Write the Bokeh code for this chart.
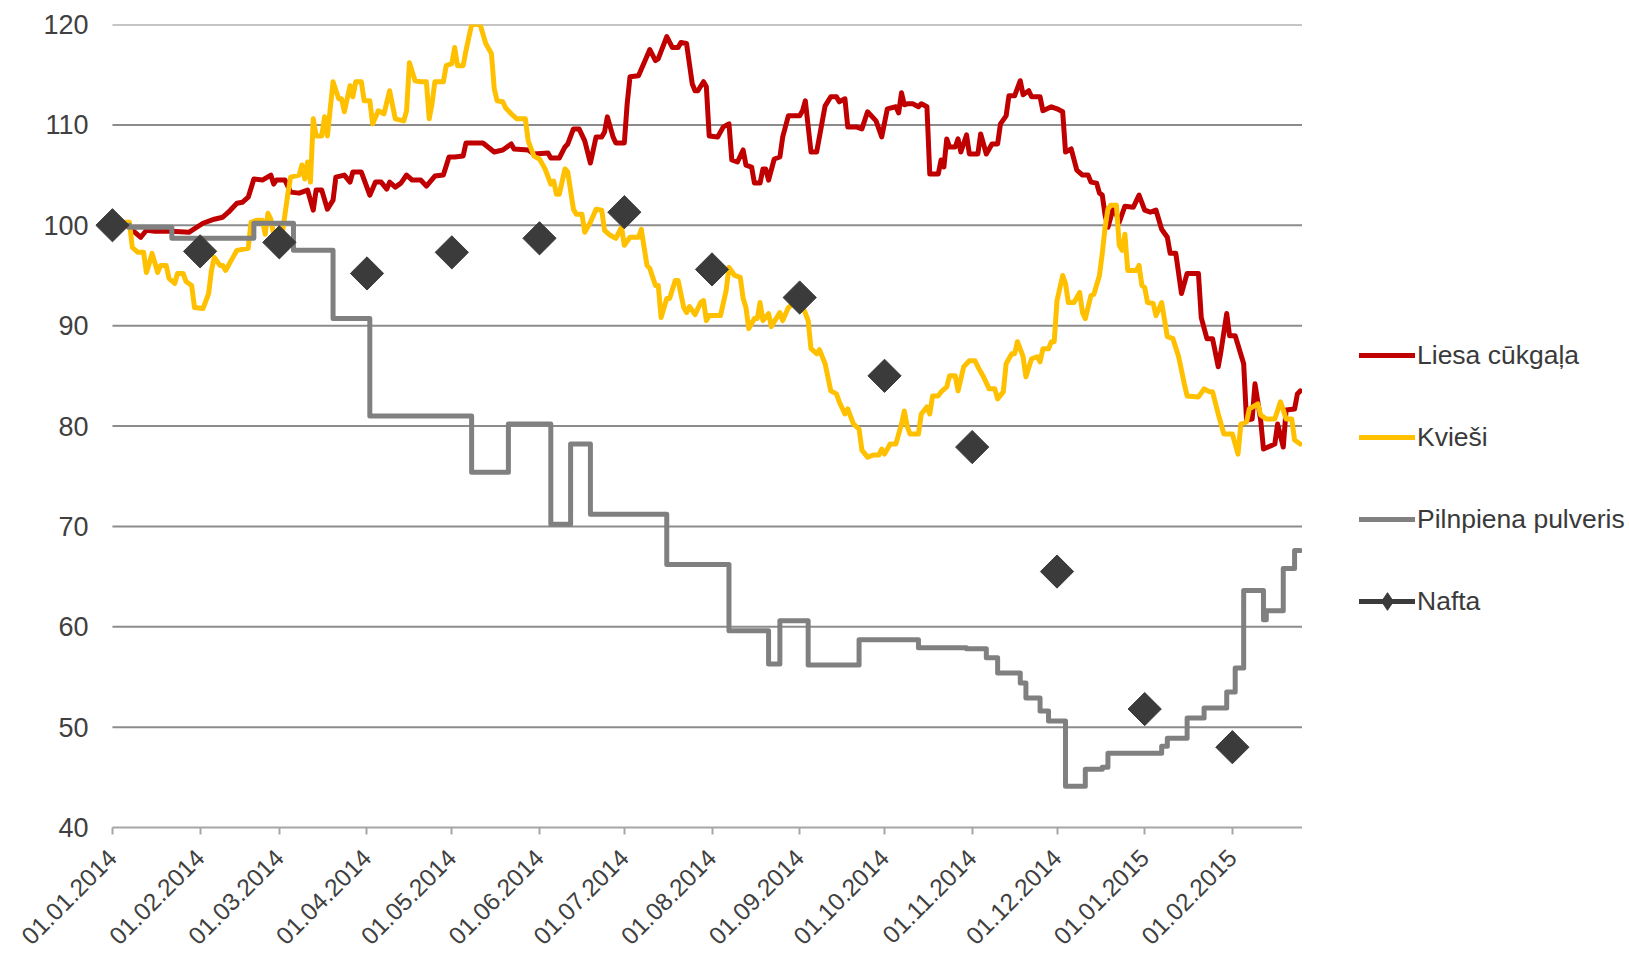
import math
from bokeh.plotting import figure
from bokeh.layouts import row
from bokeh.models import Range1d, FixedTicker, Legend, LegendItem, ColumnDataSource
from bokeh.embed import file_html
from bokeh.resources import INLINE

# ---------------- data (x = days since 01.01.2014) ----------------
month_days = [0, 31, 59, 90, 120, 151, 181, 212, 243, 273, 304, 334, 365, 396]
month_labels = ["01.01.2014", "01.02.2014", "01.03.2014", "01.04.2014", "01.05.2014",
                "01.06.2014", "01.07.2014", "01.08.2014", "01.09.2014", "01.10.2014",
                "01.11.2014", "01.12.2014", "01.01.2015", "01.02.2015"]
y_ticks = [40, 50, 60, 70, 80, 90, 100, 110, 120]
last_day = 420.8

pork_days = [0, 5, 10, 12, 15, 21, 27, 32, 36, 39, 41, 44, 46, 48, 50, 53, 56, 57, 58, 61,
             63, 66, 69, 71, 72, 74, 76, 78, 79, 82, 84, 85, 88, 91, 93, 95, 97, 98, 100, 102,
             104, 106, 109, 111, 114, 117, 119, 121, 124, 125, 131, 135, 138, 141, 142, 147, 149, 154, 155, 158,
             160, 161, 163, 165, 167, 169, 171, 173, 174, 175, 177, 178, 181, 182, 183, 186, 188, 190, 192, 193,
             196, 198, 200, 201, 203, 205, 206, 207, 209, 210, 211, 214, 216, 218, 219, 221, 223, 224, 226, 227,
             229, 230, 231, 232, 234, 236, 237, 239, 243, 244, 245, 247, 249, 252, 254, 256, 257, 259, 260, 263,
             265, 267, 270, 272, 274, 277, 278, 279, 280, 281, 283, 285, 286, 288, 289, 292, 293, 294, 295, 296,
             298, 299, 300, 302, 303, 306, 307, 309, 311, 313, 314, 316, 317, 319, 321, 322, 324, 325, 328, 329,
             332, 334, 336, 337, 339, 341, 343, 345, 346, 348, 349, 350, 351, 352, 354, 356, 358, 361, 363, 365,
             367, 369, 371, 373, 374, 376, 378, 380, 384, 385, 387, 389, 391, 392, 394, 395, 397, 400, 401, 403,
             404, 406, 407, 411, 412, 414, 415, 418, 419, 420]
pork_vals = [100.0, 100.0, 98.8, 99.5, 99.4, 99.4, 99.3, 100.2, 100.6, 100.8, 101.3, 102.2, 102.3, 102.8, 104.6, 104.5, 105.0, 104.1, 104.5, 104.5,
             103.3, 103.2, 103.5, 101.5, 103.5, 103.5, 101.6, 102.5, 104.8, 105.0, 104.3, 105.3, 105.3, 103.0, 104.3, 104.3, 103.6, 104.3, 103.8, 104.2,
             105.0, 104.5, 104.5, 103.9, 104.9, 105.0, 106.8, 106.8, 106.9, 108.2, 108.2, 107.3, 107.5, 108.1, 107.6, 107.5, 107.1, 107.2, 106.7, 106.7,
             107.8, 108.1, 109.6, 109.6, 108.4, 106.2, 108.8, 108.8, 109.3, 110.8, 108.8, 108.2, 108.2, 112.1, 114.8, 114.9, 116.2, 117.5, 116.4, 116.6,
             118.8, 117.7, 117.7, 118.2, 118.1, 114.1, 113.4, 113.4, 114.3, 113.8, 108.9, 108.8, 109.8, 110.1, 106.5, 106.3, 107.5, 106.0, 105.8, 104.2,
             104.2, 105.6, 105.6, 104.5, 106.6, 106.8, 108.8, 110.9, 110.9, 111.4, 112.4, 107.3, 107.3, 111.9, 112.8, 112.8, 112.3, 112.6, 109.8, 109.8,
             109.6, 111.3, 110.4, 108.8, 111.6, 111.8, 111.2, 113.2, 112.0, 112.1, 112.1, 111.8, 112.1, 111.8, 105.1, 105.1, 106.5, 105.8, 108.6, 107.8,
             107.8, 108.6, 107.3, 109.0, 107.1, 107.1, 109.1, 107.1, 108.1, 108.1, 110.1, 110.9, 112.9, 112.9, 114.4, 113.0, 113.4, 112.8, 112.8, 111.4,
             111.8, 111.6, 111.3, 107.3, 107.6, 105.5, 105.0, 105.0, 104.3, 104.2, 103.2, 103.0, 101.0, 99.8, 101.8, 100.3, 101.9, 101.8, 103.0, 101.5,
             101.3, 101.5, 99.6, 98.8, 97.2, 97.2, 93.2, 95.2, 95.2, 90.8, 88.7, 88.7, 85.9, 87.5, 91.2, 89.0, 89.0, 86.2, 80.6, 80.7,
             84.2, 80.6, 77.7, 78.2, 80.2, 77.9, 81.6, 81.7, 83.2, 83.5]

wheat_days = [0, 3, 6, 7, 9, 11, 12, 13, 14, 16, 17, 19, 20, 22, 23, 25, 26, 28, 29, 32,
              34, 35, 36, 38, 39, 40, 42, 43, 44, 48, 49, 51, 53, 54, 55, 56, 57, 60, 62, 63,
              66, 67, 68, 69, 70, 71, 72, 74, 75, 76, 78, 80, 81, 82, 84, 85, 86, 88, 89, 91,
              92, 94, 96, 98, 100, 103, 104, 105, 107, 109, 111, 112, 113, 114, 117, 118, 120, 121, 122, 124,
              125, 127, 130, 132, 134, 135, 136, 138, 139, 141, 143, 146, 147, 149, 151, 153, 155, 156, 157, 158,
              160, 161, 163, 164, 166, 167, 169, 171, 173, 174, 176, 178, 180, 181, 183, 186, 187, 189, 190, 192,
              193, 194, 196, 197, 199, 200, 202, 203, 204, 206, 208, 209, 210, 211, 215, 217, 218, 220, 222, 223,
              224, 225, 227, 228, 229, 230, 232, 233, 234, 236, 237, 239, 242, 244, 246, 247, 249, 250, 252, 254,
              256, 257, 259, 260, 262, 264, 265, 267, 269, 271, 272, 273, 275, 277, 279, 280, 281, 282, 285, 286,
              288, 289, 290, 292, 293, 295, 296, 298, 299, 301, 303, 305, 306, 308, 310, 312, 313, 315, 316, 318,
              319, 320, 322, 323, 325, 327, 328, 329, 331, 332, 333, 334, 336, 337, 338, 340, 342, 343, 344, 346,
              347, 349, 350, 351, 352, 353, 355, 356, 357, 358, 359, 362, 363, 364, 365, 366, 368, 369, 371, 373,
              375, 377, 379, 380, 384, 386, 388, 389, 391, 393, 396, 398, 399, 401, 402, 405, 406, 408, 411, 413,
              414, 415, 417, 418, 420]
wheat_vals = [100.0, 100.3, 100.3, 97.8, 97.3, 97.3, 95.3, 96.2, 97.2, 95.3, 96.0, 96.0, 94.7, 94.2, 95.2, 95.2, 94.4, 94.0, 91.8, 91.7,
              93.2, 95.5, 96.8, 96.0, 96.0, 95.5, 96.5, 97.0, 97.5, 97.7, 100.3, 100.5, 100.5, 99.1, 101.2, 100.6, 99.1, 99.1, 103.1, 104.8,
              105.0, 106.0, 104.6, 106.3, 104.3, 110.6, 108.9, 108.9, 110.8, 108.9, 114.3, 112.6, 112.6, 111.3, 113.9, 112.8, 114.3, 114.3, 112.4, 112.4,
              110.1, 111.4, 111.1, 113.4, 110.6, 110.4, 111.4, 116.2, 114.4, 114.3, 114.3, 110.6, 112.1, 114.3, 114.3, 115.9, 116.1, 117.7, 115.9, 115.9,
              117.4, 120.0, 120.0, 118.1, 117.1, 113.6, 112.4, 112.3, 111.7, 111.1, 110.6, 110.6, 108.4, 106.9, 106.6, 105.6, 104.1, 104.4, 103.1, 103.1,
              105.6, 105.3, 101.6, 101.1, 101.1, 99.3, 100.3, 101.6, 101.5, 99.5, 99.0, 98.7, 99.8, 98.0, 98.8, 98.8, 99.6, 96.0, 95.7, 94.0,
              94.0, 90.8, 92.7, 92.7, 94.5, 94.5, 91.8, 91.3, 91.9, 91.1, 92.3, 92.5, 90.5, 91.0, 91.0, 93.5, 95.8, 95.0, 94.8, 92.7,
              91.8, 89.7, 90.7, 90.7, 92.3, 90.5, 91.2, 89.9, 90.4, 91.3, 90.5, 91.8, 92.5, 92.0, 90.5, 87.7, 87.2, 87.6, 86.2, 83.5,
              83.2, 82.4, 81.2, 81.7, 80.2, 79.7, 77.6, 76.9, 77.1, 77.1, 77.7, 77.2, 78.2, 78.2, 80.2, 81.5, 80.0, 79.2, 79.2, 81.2,
              81.9, 81.2, 83.0, 83.0, 83.4, 83.9, 85.0, 85.0, 83.5, 85.9, 86.5, 86.5, 85.9, 84.9, 83.7, 83.7, 82.7, 83.4, 86.2, 87.2,
              87.2, 88.4, 86.9, 84.9, 86.7, 86.9, 86.4, 87.7, 87.7, 88.4, 88.4, 92.5, 95.0, 94.2, 92.3, 92.3, 93.3, 91.3, 90.7, 93.0,
              93.1, 95.0, 97.2, 99.8, 101.6, 102.0, 102.0, 98.0, 97.5, 99.1, 95.5, 95.5, 96.0, 94.0, 93.8, 92.3, 92.2, 91.0, 92.3, 88.9,
              88.7, 86.9, 84.2, 83.0, 82.9, 83.7, 83.4, 83.4, 81.2, 79.2, 79.2, 77.2, 80.2, 80.4, 81.7, 82.2, 81.1, 80.7, 80.7, 82.4,
              81.6, 80.7, 80.7, 78.6, 78.2]

milk_days = [0, 6, 21, 50, 64, 78, 91, 127, 140, 155, 162, 169, 196, 218, 232, 236, 246, 264, 285, 302,
             309, 313, 321, 323, 328, 331, 337, 344, 350, 352, 371, 373, 380, 386, 394, 397, 400, 407, 408, 414,
             418, 420]
milk_vals = [100.0, 99.8, 98.7, 100.2, 97.5, 90.7, 81.0, 75.4, 80.2, 70.2, 78.2, 71.2, 66.2, 59.6, 56.3, 60.6, 56.2, 58.7, 57.9, 57.8,
             56.9, 55.4, 54.4, 52.9, 51.6, 50.6, 44.1, 45.8, 46.0, 47.4, 48.1, 48.9, 50.9, 51.9, 53.5, 55.9, 63.6, 60.7, 61.6, 65.8,
             67.6, 67.6]

oil_days = month_days
oil_vals = [100.0, 97.4, 98.3, 95.2, 97.3, 98.7, 101.3, 95.6, 92.8, 85.0, 77.9, 65.5, 51.8, 48.0]

series_names = ["Liesa cūkgaļa", "Kvieši", "Pilnpiena pulveris", "Nafta"]
series_colors = ["#C00000", "#FFC000", "#808080", "#3B3B3B"]

FONT = "Liberation Sans"
TXT = "#404040"
LW = 5
LEFT_PAD_DAYS = 6  # room so the first marker is not cut at the plot edge

# ---------------- main chart ----------------
p = figure(width=1302, height=955, output_backend="svg", toolbar_location=None,
           x_range=Range1d(-LEFT_PAD_DAYS, last_day), y_range=Range1d(40, 120),
           min_border_left=95, min_border_right=0, min_border_top=24, min_border_bottom=127)
p.outline_line_color = None
p.background_fill_color = "white"
p.border_fill_color = "white"

# horizontal gridlines limited to the date span
grid_y = y_ticks[1:]
p.segment(x0=[0] * len(grid_y), x1=[last_day] * len(grid_y), y0=grid_y, y1=grid_y,
          line_color="#8C8C8C", line_width=2)

p.line(pork_days, pork_vals, line_color=series_colors[0], line_width=LW, line_join="round", line_cap="round")
p.line(wheat_days, wheat_vals, line_color=series_colors[1], line_width=LW, line_join="round", line_cap="round")
p.step(milk_days, milk_vals, mode="after", line_color=series_colors[2], line_width=LW, line_join="round", line_cap="round")
p.scatter(oil_days, oil_vals, marker="square", size=23.5, angle=math.pi / 4,
          fill_color=series_colors[3], line_color=series_colors[3])

p.xgrid.grid_line_color = None
p.ygrid.grid_line_color = None
p.yaxis.ticker = FixedTicker(ticks=y_ticks)
p.yaxis.axis_line_color = None
p.yaxis.major_tick_line_color = None
p.yaxis.major_tick_out = 0
p.yaxis.major_tick_in = 0
p.yaxis.minor_tick_line_color = None
p.yaxis.major_label_standoff = 7
p.yaxis.major_label_text_font = FONT
p.yaxis.major_label_text_font_size = "27px"
p.yaxis.major_label_text_color = TXT

p.xaxis.bounds = (0, last_day)
p.xaxis.ticker = FixedTicker(ticks=month_days)
p.xaxis.major_label_overrides = {d: lab for d, lab in zip(month_days, month_labels)}
p.xaxis.major_label_orientation = math.pi / 4
p.xaxis.axis_line_color = "#A6A6A6"
p.xaxis.axis_line_width = 2
p.xaxis.major_tick_line_color = "#A6A6A6"
p.xaxis.major_tick_line_width = 2
p.xaxis.major_tick_out = 7
p.xaxis.major_tick_in = 0
p.xaxis.minor_tick_line_color = None
p.xaxis.major_label_standoff = 19
p.xaxis.major_label_text_font = FONT
p.xaxis.major_label_text_font_size = "24.5px"
p.xaxis.major_label_text_color = TXT

# ---------------- legend panel ----------------
q = figure(width=327, height=955, output_backend="svg", toolbar_location=None,
           x_range=Range1d(0, 1), y_range=Range1d(0, 1),
           x_axis_location=None, y_axis_location=None,
           min_border_left=0, min_border_right=0, min_border_top=0, min_border_bottom=0)
q.outline_line_color = None
q.grid.grid_line_color = None
q.background_fill_color = "white"
q.border_fill_color = "white"

nan_src = ColumnDataSource(dict(x=[float("nan")], y=[float("nan")]))
l0 = q.line("x", "y", source=nan_src, line_color=series_colors[0], line_width=LW, line_cap="round")
l1 = q.line("x", "y", source=nan_src, line_color=series_colors[1], line_width=LW, line_cap="round")
l2 = q.line("x", "y", source=nan_src, line_color=series_colors[2], line_width=LW, line_cap="round")
l3 = q.line("x", "y", source=nan_src, line_color=series_colors[3], line_width=LW, line_cap="round")
m3 = q.scatter("x", "y", source=nan_src, marker="diamond", size=18,
               fill_color=series_colors[3], line_color=series_colors[3])

legend = Legend(items=[
    LegendItem(label=series_names[0], renderers=[l0]),
    LegendItem(label=series_names[1], renderers=[l1]),
    LegendItem(label=series_names[2], renderers=[l2]),
    LegendItem(label=series_names[3], renderers=[l3, m3]),
], location=(57, 204), orientation="vertical",
    glyph_width=56, glyph_height=44, spacing=38, padding=0, margin=0, label_standoff=2,
    label_text_font=FONT, label_text_font_size="26.5px", label_text_color="#3A3A3A",
    border_line_color=None, background_fill_alpha=0)
q.add_layout(legend, "center")

layout = row(p, q, spacing=0)
open("out.html", "w").write(file_html(layout, INLINE))
